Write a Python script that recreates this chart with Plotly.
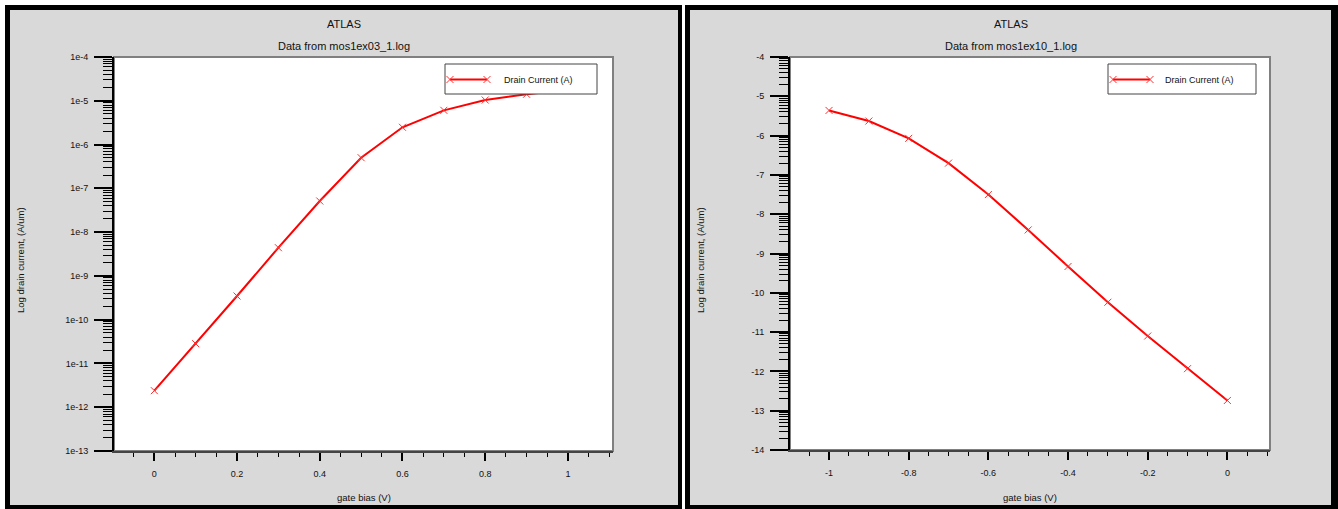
import numpy as np
import plotly.graph_objects as go

W, H = 1338, 509

# --- mos1ex03_1.log : NMOS gate sweep, drain current in A/um
vg_n = [0.0, 0.1, 0.2, 0.3, 0.4, 0.5, 0.6, 0.7, 0.8, 0.9, 1.0]
id_n = [2.39e-12, 2.83e-11, 3.47e-10, 4.41e-9, 5.14e-8, 5.01e-7,
        2.48e-6, 6.05e-6, 1.04e-5, 1.41e-5, 1.78e-5]

# --- mos1ex10_1.log : PMOS gate sweep, log10 of drain current
vg_p = [-1.0, -0.9, -0.8, -0.7, -0.6, -0.5, -0.4, -0.3, -0.2, -0.1, 0.0]
logid_p = [-5.36, -5.63, -6.07, -6.70, -7.50, -8.40, -9.33, -10.24,
           -11.10, -11.93, -12.74]

# tick labels
xt_n = [0, 0.2, 0.4, 0.6, 0.8, 1]
xt_n_text = ["0", "0.2", "0.4", "0.6", "0.8", "1"]
yt_n = [10.0 ** e for e in range(-13, -3)]
yt_n_text = ["1e%d" % e for e in range(-13, -3)]
xt_p = [-1, -0.8, -0.6, -0.4, -0.2, 0]
xt_p_text = ["-1", "-0.8", "-0.6", "-0.4", "-0.2", "0"]
yt_p = list(range(-14, -3))
yt_p_text = [str(v) for v in yt_p]

titles = ["Data from mos1ex03_1.log", "Data from mos1ex10_1.log"]
xlabel = "gate bias (V)"
ylabel = "Log drain current, (A/um)"
legend_label = "Drain Current (A)"

FONT = "Arial, Liberation Sans, sans-serif"
GRAY = "#d9d9d9"
RED = "#ff0000"


def px(x):
    return x / W


def py(y):
    return 1 - y / H


# decade sub-ticks (2..9 within each decade)
minor_n = [k * 10.0 ** e for e in range(-13, -4) for k in range(2, 10)]
minor_p = [e + np.log10(k) for e in range(-14, -4) for k in range(2, 10)]

fig = go.Figure()

marker = dict(symbol="x-thin", size=7, line=dict(color="#ff3030", width=1))
fig.add_trace(go.Scatter(x=vg_n, y=id_n, mode="lines+markers",
                         line=dict(color=RED, width=2), marker=marker,
                         xaxis="x", yaxis="y", showlegend=False))
fig.add_trace(go.Scatter(x=vg_p, y=logid_p, mode="lines+markers",
                         line=dict(color=RED, width=2), marker=marker,
                         xaxis="x2", yaxis="y2", showlegend=False))

tickfont = dict(family=FONT, size=9, color="#111")
xcommon = dict(showgrid=False, zeroline=False, showline=True, linecolor="#444",
               linewidth=2, ticks="outside", ticklen=8, tickwidth=2,
               tickcolor="black", tickfont=tickfont, tickmode="array",
               ticklabelstandoff=5, automargin=False,
               minor=dict(ticks="outside", ticklen=4, tickwidth=1,
                          tickcolor="black", dtick=0.05, tick0=0))
ycommon = dict(showgrid=False, zeroline=False, showline=True, linecolor="black",
               linewidth=2, ticks="outside", ticklen=18, tickwidth=2,
               tickcolor="black", tickfont=tickfont, tickmode="array",
               ticklabelstandoff=4, automargin=False)

fig.update_layout(
    width=W, height=H, autosize=False,
    margin=dict(l=0, r=0, t=0, b=0, pad=0, autoexpand=False),
    paper_bgcolor="white", plot_bgcolor="white",
    xaxis=dict(domain=[px(114), px(613)], range=[-0.0975, 1.109], anchor="y",
               tickvals=xt_n, ticktext=xt_n_text, **xcommon),
    yaxis=dict(domain=[py(451), py(57)], type="log", range=[-13, -4], anchor="x",
               tickvals=yt_n, ticktext=yt_n_text,
               minor=dict(ticks="outside", ticklen=9, tickwidth=1,
                          tickcolor="black", tickmode="array", tickvals=minor_n),
               **ycommon),
    xaxis2=dict(domain=[px(790), px(1270)], range=[-1.098, 0.107], anchor="y2",
                tickvals=xt_p, ticktext=xt_p_text, **xcommon),
    yaxis2=dict(domain=[py(450), py(57)], range=[-14, -4], anchor="x2",
                tickvals=yt_p, ticktext=yt_p_text,
                minor=dict(ticks="outside", ticklen=9, tickwidth=1,
                           tickcolor="black", tickmode="array", tickvals=minor_p),
                **ycommon),
)

shapes = []
annotations = []


def prect(x0, y0, x1, y1, **kw):
    return dict(type="rect", xref="paper", yref="paper",
                x0=px(x0), x1=px(x1), y0=py(y1), y1=py(y0), **kw)


# panel frames: black border, gray face
panels = [(5, 5, 682, 512, 10, 10, 678, 505), (685, 5, 1345, 512, 690, 10, 1331, 505)]
for (ox0, oy0, ox1, oy1, ix0, iy0, ix1, iy1) in panels:
    shapes.append(prect(ox0, oy0, ox1, oy1, fillcolor="black", line=dict(width=0), layer="below"))
    shapes.append(prect(ix0, iy0, ix1, iy1, fillcolor=GRAY, line=dict(width=0), layer="below"))

# white plot faces with gray outline
for xa, ya in [("x", "y"), ("x2", "y2")]:
    shapes.append(dict(type="rect", xref=xa + " domain", yref=ya + " domain",
                       x0=0, x1=1, y0=0, y1=1, fillcolor="white",
                       line=dict(color="#808080", width=2), layer="below"))

# legend boxes
legends = [(445, 597, 450, 487, 502), (1108, 1256, 1113, 1150, 1163)]
ly = 79.5
for (bx0, bx1, lx0, lx1, tx) in legends:
    shapes.append(prect(bx0, 64, bx1, 94, fillcolor="white",
                        line=dict(color="#444", width=1), layer="above"))
    shapes.append(dict(type="line", xref="paper", yref="paper",
                       x0=px(lx0), x1=px(lx1), y0=py(ly), y1=py(ly),
                       line=dict(color=RED, width=2), layer="above"))
    for cx in (lx0, lx1):
        d = 3.5
        path = "M %f %f L %f %f M %f %f L %f %f" % (
            px(cx - d), py(ly - d), px(cx + d), py(ly + d),
            px(cx - d), py(ly + d), px(cx + d), py(ly - d))
        shapes.append(dict(type="path", xref="paper", yref="paper", path=path,
                           line=dict(color="#ff3030", width=1), layer="above"))
    annotations.append(dict(text=legend_label, xref="paper", yref="paper",
                            x=px(tx), y=py(80.5), xanchor="left", yanchor="middle",
                            showarrow=False, font=dict(family=FONT, size=9, color="#111")))

# titles and axis labels
for cx, sub, pcx, ylx in [(344, titles[0], 363.5, 20), (1010.5, titles[1], 1030, 700)]:
    annotations.append(dict(text="ATLAS", xref="paper", yref="paper", x=px(cx), y=py(24),
                            xanchor="center", yanchor="middle", showarrow=False,
                            font=dict(family=FONT, size=11, color="#111")))
    annotations.append(dict(text=sub, xref="paper", yref="paper", x=px(cx), y=py(45.5),
                            xanchor="center", yanchor="middle", showarrow=False,
                            font=dict(family=FONT, size=11, color="#111")))
    annotations.append(dict(text=xlabel, xref="paper", yref="paper", x=px(pcx), y=py(497.5),
                            xanchor="center", yanchor="middle", showarrow=False,
                            font=dict(family=FONT, size=9.5, color="#111")))
    annotations.append(dict(text=ylabel, xref="paper", yref="paper", x=px(ylx), y=py(260),
                            xanchor="center", yanchor="middle", showarrow=False, textangle=-90,
                            font=dict(family=FONT, size=9.5, color="#111")))

fig.update_layout(shapes=shapes, annotations=annotations)
fig.write_html("out.html")
